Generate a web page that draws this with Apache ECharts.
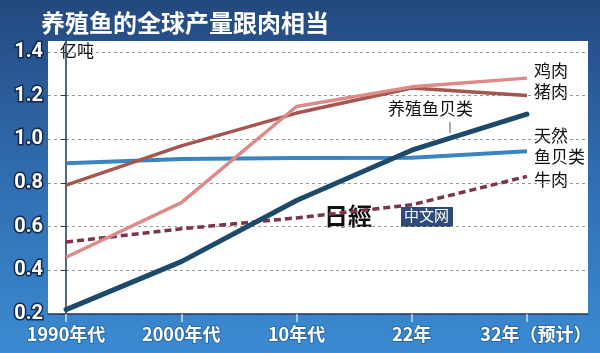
<!DOCTYPE html>
<html>
<head>
  <meta charset="utf-8">
  <title>养殖鱼的全球产量跟肉相当</title>
  <script src="https://cdn.jsdelivr.net/npm/echarts@6/dist/echarts.min.js"></script>
  <style>
    html, body { margin: 0; padding: 0; }
  </style>
</head>
<body>
  <div id="main" style="width: 600px;height:353px;"></div>
  <script type="text/javascript">
    // 数据（单位：亿吨）
    var categories = ['1990年代', '2000年代', '10年代', '22年', '32年（预计）'];
    var chicken = [0.46, 0.71, 1.15, 1.24, 1.28];
    var pork = [0.79, 0.97, 1.12, 1.235, 1.20];
    var farmedFish = [0.22, 0.44, 0.72, 0.95, 1.115];
    var wildFish = [0.89, 0.91, 0.914, 0.915, 0.945];
    var beef = [0.53, 0.59, 0.64, 0.70, 0.83];
    var yTicks = [0.2, 0.4, 0.6, 0.8, 1.0, 1.2, 1.4];

    function pts(arr) {
      return arr.map(function (v, i) { return [i, v]; });
    }

    var myChart = echarts.init(document.getElementById('main'));
    var font = '"Noto Sans CJK SC", "Noto Sans", sans-serif';

    var option = {
      animation: false,
      backgroundColor: {
        type: 'linear', x: 0, y: 0, x2: 0, y2: 1,
        colorStops: [
          { offset: 0, color: '#24487f' },
          { offset: 0.45, color: '#2f6aac' },
          { offset: 1, color: '#3b8bd2' }
        ]
      },
      title: {
        text: '养殖鱼的全球产量跟肉相当',
        left: 36,
        top: 6,
        textStyle: { color: '#fff', fontSize: 24, fontWeight: 'bold', fontFamily: font }
      },
      grid: { left: 48, right: 12, top: 41, bottom: 39, show: true, backgroundColor: '#fff', borderWidth: 0 },
      xAxis: {
        type: 'value',
        min: -0.157,
        max: 4.53,
        splitLine: { show: false },
        axisLine: { show: true, lineStyle: { color: '#1d3557', width: 1.5 } },
        axisTick: { show: true, customValues: [0, 1, 2, 3, 4], length: 8, lineStyle: { color: '#bfe0ff', width: 1.5 } },
        axisLabel: {
          customValues: [0, 1, 2, 3, 4],
          formatter: function (v) {
            var i = Math.round(v);
            return i === 4 ? '{pad|}' + categories[i] : categories[i];
          },
          rich: { pad: { width: 18 } },
          color: '#fff', fontSize: 18, fontWeight: 'bold', fontFamily: font,
          margin: 11,
          textBorderColor: '#2a6aa8', textBorderWidth: 2
        }
      },
      yAxis: {
        type: 'value',
        min: 0.2,
        max: 1.45,
        splitLine: { show: true, lineStyle: { color: '#9a9a9a', type: [3, 3], width: 1 } },
        axisLine: { show: true, lineStyle: { color: '#1d3557', width: 1.5 } },
        axisTick: { show: true, customValues: yTicks, length: 5, lineStyle: { color: '#1d3557' } },
        axisLabel: {
          customValues: yTicks,
          formatter: function (v) { return v.toFixed(1); },
          color: '#fff', fontSize: 20, fontWeight: 'bold', fontFamily: 'Roboto, sans-serif',
          margin: 5,
          textBorderColor: '#14284a', textBorderWidth: 3
        }
      },
      graphic: [
        { type: 'text', left: 60, top: 42, style: { text: '亿吨', fill: '#111', font: '17px ' + font } },
        { type: 'text', left: 534, top: 62, style: { text: '鸡肉', fill: '#111', font: '17px ' + font } },
        { type: 'text', left: 534, top: 83, style: { text: '猪肉', fill: '#111', font: '17px ' + font } },
        { type: 'text', left: 388, top: 100, style: { text: '养殖鱼贝类', fill: '#111', font: '17px ' + font } },
        { type: 'line', shape: { x1: 450, y1: 122, x2: 450, y2: 133 }, style: { stroke: '#555', lineWidth: 1 } },
        { type: 'text', left: 534, top: 127, style: { text: '天然', fill: '#111', font: '17px ' + font } },
        { type: 'text', left: 534, top: 148, style: { text: '鱼贝类', fill: '#111', font: '17px ' + font } },
        { type: 'text', left: 534, top: 171, style: { text: '牛肉', fill: '#111', font: '17px ' + font } },
        { type: 'text', left: 324, top: 204, style: { text: '日經', fill: '#111', font: 'bold 24px "Noto Sans CJK JP", serif' } },
        { type: 'rect', shape: { x: 401, y: 207, width: 52, height: 20 }, style: { fill: '#2d4a78' } },
        { type: 'text', left: 404, top: 208, style: { text: '中文网', fill: '#fff', font: '15px ' + font } }
      ],
      series: [
        { name: '天然鱼贝类', type: 'line', data: pts(wildFish), symbol: 'none', lineStyle: { color: '#3a84c2', width: 4 } },
        { name: '牛肉', type: 'line', data: pts(beef), symbol: 'none', lineStyle: { color: '#7b3452', width: 3.5, type: [7, 4] } },
        { name: '猪肉', type: 'line', data: pts(pork), symbol: 'none', lineStyle: { color: '#a5564e', width: 3.5 } },
        { name: '鸡肉', type: 'line', data: pts(chicken), symbol: 'none', lineStyle: { color: '#de8a88', width: 3.5 } },
        { name: '养殖鱼贝类', type: 'line', data: pts(farmedFish), symbol: 'none', lineStyle: { color: '#1d4a6a', width: 5, cap: 'round' } }
      ]
    };

    myChart.setOption(option);
  </script>
</body>
</html>
